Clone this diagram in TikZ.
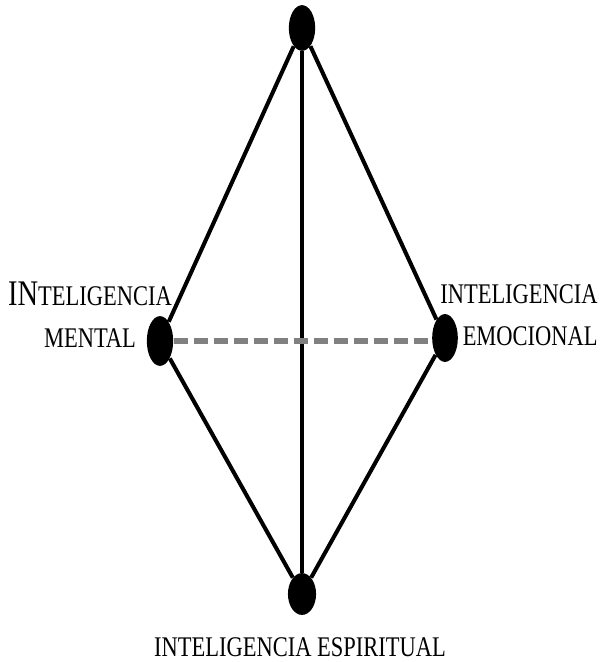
\documentclass[tikz,border=0pt]{standalone}
\usepackage{fontspec}
\newfontfamily\labelfont[FakeStretch=0.79]{Liberation Serif}
\usepackage{tikz}
\usetikzlibrary{positioning, arrows.meta, calc, shapes.geometric}
\usepackage{xcolor}

\newcommand{\largeinit}[1]{{\fontsize{20.5}{24}\selectfont #1}}

\begin{document}
\begin{tikzpicture}[x=0.02cm, y=-0.02cm,
  dot/.style={ellipse, fill=black, inner sep=0pt, minimum width=15pt, minimum height=26pt},
  edge/.style={line width=2.3pt},
  lbl/.style={font=\labelfont\fontsize{16.2}{24}\selectfont, inner sep=0pt}]
  \useasboundingbox (0,0) rectangle (602,662);

  % The four corners
  \node[dot] (top) at (302,28) {};
  \node[dot, minimum height=28.3pt] (mental) at (160,341) {};
  \node[dot, minimum width=14.6pt, minimum height=27.2pt] (emo) at (445,338) {};
  \node[dot, minimum width=16pt, minimum height=23.8pt] (espi) at (302,594) {};

  % Solid sides and the vertical axis
  \draw[edge] (top) -- (mental) -- (espi) -- (emo) -- (top);
  \draw[edge] (top) -- (espi);

  % Dashed cross line
  \draw[line width=3.4pt, gray, dash pattern=on 8pt off 3.4pt] (mental.east) -- (mental.east -| emo.west);

  % Labels
  \node[lbl, align=center] (mentallbl) at (90,315) {\largeinit{IN}TELIGENCIA\\MENTAL};
  \node[lbl, align=right, anchor=east] (emolbl) at (598,315) {INTELIGENCIA\\EMOCIONAL};
  \node[lbl, anchor=base] (espilbl) at (300,656) {INTELIGENCIA ESPIRITUAL};
\end{tikzpicture}
\end{document}
